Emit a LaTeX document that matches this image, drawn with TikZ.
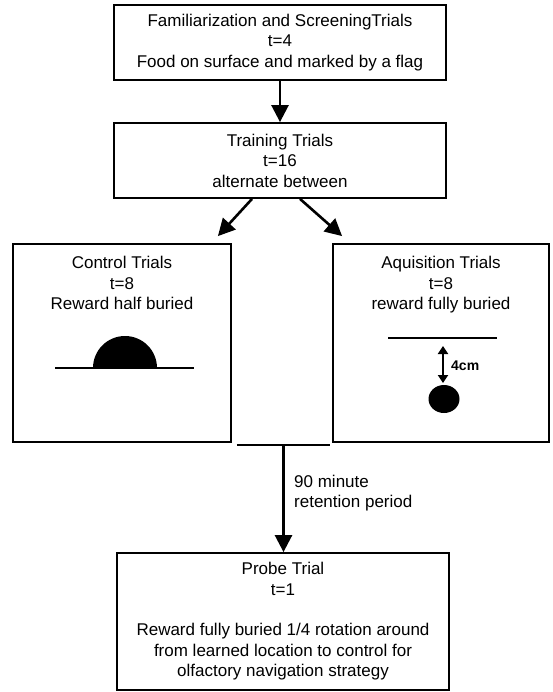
\documentclass[tikz,border=0pt]{standalone}
\usepackage{fontspec}
\setmainfont{Liberation Sans}
\usetikzlibrary{arrows.meta,calc}
\tikzset{
    stage/.style={draw, line width=1.8pt, minimum width=332pt, minimum height=75pt, inner sep=0pt},
    txt/.style={font=\fontsize{17}{20.5}\selectfont, align=center, inner sep=0pt},
    flow/.style={line width=2.6pt, -{Triangle[length=17pt,width=17pt]}},
    ground/.style={line width=2pt}
}

\begin{document}
\begin{tikzpicture}[x=1pt, y=-1pt]
    \useasboundingbox (0,0) rectangle (553,692);
    % Stages
    \node[stage, txt] (fam) at (280, 42.5)
        {Familiarization and ScreeningTrials\\ t=4\\ Food on surface and marked by a flag};
    \node[stage, txt] (train) at (280, 160.5)
        {Training Trials\\ t=16\\ alternate between};
    \node[stage, minimum width=218pt, minimum height=198pt] (ctrl) at (122, 343) {};
    \node[stage, minimum width=216pt, minimum height=198pt] (acq) at (441, 343) {};
    \node[stage, txt, minimum height=137pt] (probe) at (283, 621.5)
        {Probe Trial\\ t=1\\[20pt] Reward fully buried 1/4 rotation around\\ from learned location to control for\\ olfactory navigation strategy};
    % Box titles
    \node[txt, anchor=north] (ctrlText) at ($(ctrl.north)+(0,13)$)
        {Control Trials\\ t=8\\ Reward half buried};
    \node[txt, anchor=north] (acqText) at ($(acq.north)+(0,13)$)
        {Aquisition Trials\\ t=8\\ reward fully buried};
    % Arrows
    \draw[flow] (fam) -- (train);
    \draw[flow] ($(train.south)+(-28,0)$) -- ($(ctrl.north east)+(-14,-7)$);
    \draw[flow] ($(train.south)+(20,0)$) -- ($(acq.north west)+(10,-7)$);
    \draw[line width=2.4pt] ($(ctrl.south east)+(5,2)$) coordinate (barL)
        -- ($(acq.south west)+(-2,2)$) coordinate (barR);
    \coordinate (merge) at ($(barL)!0.5!(barR)$);
    \draw[flow] (merge) -- (merge |- probe.north);
    \node[txt, anchor=west, align=left] (retention) at (294, 493)
        {90 minute\\ retention period};
    % Half buried reward
    \draw[ground] (55, 368) -- (194, 368);
    \fill (93, 368) arc[start angle=180, end angle=360, radius=32] -- cycle;
    % Fully buried reward
    \draw[ground] (388, 338) -- (497, 338);
    \draw[line width=2.2pt, {Triangle[length=8pt,width=10pt]}-{Triangle[length=8pt,width=10pt]}]
        (443, 346) -- (443, 383);
    \node[font=\bfseries\fontsize{14}{16}\selectfont, anchor=west, inner sep=0pt] (depth) at (451, 366) {4cm};
    \fill (444, 399) ellipse [x radius=15.5, y radius=14];
\end{tikzpicture}
\end{document}
